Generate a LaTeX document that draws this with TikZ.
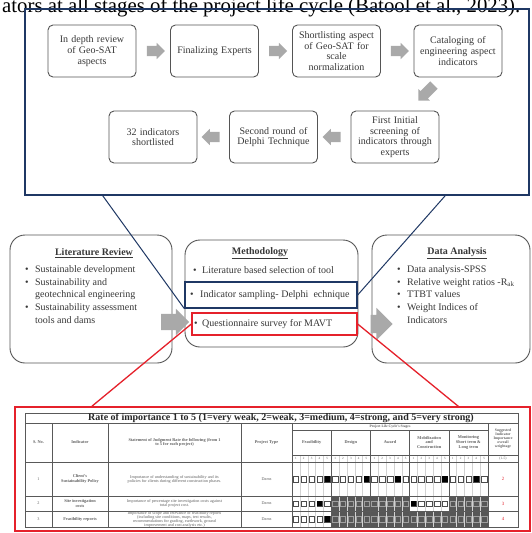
\documentclass[tikz,border=0pt]{standalone}
\usepackage{fontspec}
\setmainfont{Liberation Serif}
\usetikzlibrary{shapes.arrows,calc}

\definecolor{navy}{HTML}{1F3864}
\definecolor{boxgray}{HTML}{555555}
\definecolor{txtgray}{HTML}{383838}
\definecolor{arrowgray}{HTML}{A9A9A9}
\definecolor{mavtred}{HTML}{E5212B}
\definecolor{cellgray}{HTML}{575757}

\newcommand\tightcell{\lineskiplimit-10pt\relax\lineskip0pt\relax}

\begin{document}
\begin{tikzpicture}[x=1pt,y=-1pt,
    stepbox/.style={draw=boxgray, line width=0.9pt, rounded corners=5pt,
        minimum width=88pt, minimum height=52pt, text width=84pt, align=center,
        inner sep=1pt, text=txtgray, font=\fontsize{10}{10.6}\selectfont},
    flowarrow/.style={single arrow, fill=arrowgray, draw=none, inner xsep=0pt,
        inner ysep=5pt, minimum height=18pt, single arrow head extend=3pt},
    stagebox/.style={draw=boxgray, line width=0.9pt, rounded corners=15pt, inner sep=0pt},
    pickbox/.style={line width=1.3pt, inner sep=0pt},
    head/.style={font=\fontsize{10}{12}\selectfont\bfseries, text=txtgray},
    listtext/.style={anchor=north west, align=left, text=txtgray, inner sep=0pt,
        font=\fontsize{10}{12.6}\selectfont},
    cell/.style={font=\fontsize{4.2}{4}\selectfont\tightcell, align=center,
        text=gray!75!black, inner sep=0pt},
    cellhead/.style={cell, font=\fontsize{4.3}{4.6}\selectfont\bfseries\tightcell},
    grid/.style={draw=gray!70!black, line width=0.5pt},
    faint/.style={draw=gray!35, line width=0.3pt},
    chkbox/.style={draw=gray!60!black, line width=0.4pt},
]

\useasboundingbox (0,0) rectangle (531,533);
\clip (0,0) rectangle (531,533);
\fill[white] (0,0) rectangle (531,533);

% caption line, cut by the page
\node[anchor=base west, inner sep=0pt, font=\fontsize{20.8}{24}\selectfont] (caption) at (2,12.5)
    {ators at all stages of the project life cycle (Batool et al., 2023).};

% Geo-SAT process
\node[draw=navy, line width=1.3pt, minimum width=504pt, minimum height=186pt, inner sep=0pt] (flowframe) at (277,102) {};

\node[stepbox] (review)    at (92,51)    {In depth review\\ of Geo-SAT\\ aspects};
\node[stepbox] (experts)   at (214.5,51) {Finalizing Experts};
\node[stepbox] (shortlist) at (336.5,51) {Shortlisting aspect\\ of Geo-SAT for\\ scale\\ normalization};
\node[stepbox] (catalog)   at (458,51)   {Cataloging of\\ engineering aspect\\ indicators};
\node[stepbox] (screening) at (395,137)  {First Initial\\ screening of\\ indicators through\\ experts};
\node[stepbox] (delphi)    at (273.5,137) {Second round of\\ Delphi Technique};
\node[stepbox] (final)     at (153,137)  {32 indicators\\ shortlisted};

\node[flowarrow] at ($(review.east)!0.5!(experts.west)$) {};
\node[flowarrow] at ($(experts.east)!0.5!(shortlist.west)$) {};
\node[flowarrow] at ($(shortlist.east)!0.5!(catalog.west)$) {};
\node[flowarrow, rotate=225, minimum height=22pt] at (428,91) {};
\node[flowarrow, rotate=180] at ($(screening.west)!0.5!(delphi.east)$) {};
\node[flowarrow, rotate=180] at ($(delphi.west)!0.5!(final.east)$) {};

% three stages
\node[stagebox, minimum width=162pt, minimum height=128pt] (litbox)  at (91,299) {};
\node[stagebox, minimum width=173pt, minimum height=107pt] (methbox) at (271.5,293.5) {};
\node[stagebox, minimum width=158pt, minimum height=128pt] (databox) at (451,299) {};

\node[head] (littitle)  at (94,253)  {\underline{Literature Review}};
\node[head] (methtitle) at (260,253) {\underline{Methodology}};
\node[head] (datatitle) at (457,253) {\underline{Data Analysis}};

\node[listtext] (litlist) at (25,265.5) {%
    \makebox[10pt][l]{\textbullet}Sustainable development\\
    \makebox[10pt][l]{\textbullet}Sustainability and\\
    \hspace*{10pt}geotechnical engineering\\
    \makebox[10pt][l]{\textbullet}Sustainability assessment\\
    \hspace*{10pt}tools and dams};

\node[listtext] (datalist) at (397,265.5) {%
    \makebox[10pt][l]{\textbullet}Data analysis-SPSS\\
    \makebox[10pt][l]{\textbullet}Relative weight ratios -R\textsubscript{ak}\\
    \makebox[10pt][l]{\textbullet}TTBT values\\
    \makebox[10pt][l]{\textbullet}Weight Indices of\\
    \hspace*{10pt}Indicators};

\node[pickbox, draw=navy, minimum width=172pt, minimum height=26pt] (sampbox) at (271,295) {};
\node[pickbox, draw=mavtred, minimum width=165pt, minimum height=22pt] (mavtbox) at (274.5,324) {};

\node[listtext, anchor=west] (toolitem) at (193,270)
    {\makebox[9pt][l]{\textbullet}Literature based selection of tool};
\node[listtext, anchor=west] (sampitem) at (190,295.5)
    {\makebox[10pt][l]{\textbullet}Indicator sampling- Delphi\ \ echnique};
\node[listtext, anchor=west] (mavtitem) at (194,324)
    {\makebox[8pt][l]{\textbullet}Questionnaire survey for MAVT};

\node[flowarrow, inner ysep=8pt, single arrow head extend=5pt, minimum height=28pt] at (171,322) {};
\node[flowarrow, inner ysep=9pt, single arrow head extend=7pt, minimum height=22pt] at (377,324) {};

% questionnaire table
\node[draw=mavtred, line width=1.3pt, minimum width=515pt, minimum height=124pt, inner sep=0pt] (tabframe) at (272.5,469) {};

\coordinate (fl) at ($(flowframe.south west)!0.155!(flowframe.south east)$);
\coordinate (fr) at ($(flowframe.south west)!0.833!(flowframe.south east)$);
\coordinate (tl) at ($(tabframe.north west)!0.15!(tabframe.north east)$);
\coordinate (tr) at ($(tabframe.north west)!0.86!(tabframe.north east)$);

\draw[navy, line width=1pt] (fl) -- (sampbox.south west);
\draw[navy, line width=1pt] (fr) -- (sampbox.east);
\draw[mavtred, line width=1.3pt] (mavtbox.west) -- (tl);
\draw[mavtred, line width=1.3pt] (mavtbox.east) -- (tr);

% dark cells
\foreach \s/\ytop/\ybot in {2/496/511, 3/496/511, 5/496/511, 2/511/527, 3/511/527, 4/511/527, 5/511/527}
    \fill[cellgray] ({292+39.2*(\s-1)},\ytop) rectangle ({292+39.2*\s},\ybot);

% sub columns
\foreach \j in {1,...,24}
    \draw[faint] ({292+7.84*\j},455) -- ({292+7.84*\j},527);

% grid
\draw[grid] (25,413) rectangle (518,527);
\draw[grid] (25,423) -- (518,423);
\draw[grid] (292,430) -- (488,430);
\draw[grid] (292,455) -- (518,455);
\draw[grid] (25,462) -- (518,462);
\draw[grid] (25,496) -- (518,496);
\draw[grid] (25,511) -- (518,511);
\foreach \xx in {52,108,241,292,488}
    \draw[grid] (\xx,423) -- (\xx,527);
\foreach \s in {1,...,4}
    \draw[grid] ({292+39.2*\s},430) -- ({292+39.2*\s},527);

\node[font=\fontsize{10}{12}\selectfont\bfseries, text=black!85, inner sep=0pt] (tabtitle) at (281,418)
    {Rate of importance 1 to 5 (1=very weak, 2=weak, 3=medium, 4=strong, and 5=very strong)};

\node[cellhead] (hsno)   at (38.5,442.5) {S. No.};
\node[cellhead] (hind)   at (80,442.5)   {Indicator};
\node[cellhead] (hstat)  at (174.5,442.5)
    {Statement of Judgment Rate the following (from 1\\ to 5 for each project)};
\node[cellhead] (htype)  at (266.5,442.5) {Project Type};
\node[cellhead, font=\fontsize{3.6}{4}\selectfont\bfseries] (hstages) at (390,426.5) {Project Life Cycle's Stages};
\node[cellhead] (hfeas)  at (311.6,442.5) {Feasibility};
\node[cellhead] (hdes)   at (350.8,442.5) {Design};
\node[cellhead] (haward) at (390,442.5)   {Award};
\node[cellhead] (hmob)   at (429.2,442.5) {Mobilization\\ and\\ Construction};
\node[cellhead] (hmon)   at (468.4,442.5) {Monitoring\\ Short term \&\\ Long term};
\node[cellhead, font=\fontsize{3.8}{4}\selectfont\bfseries\tightcell] (hsugg) at (503,439)
    {Suggested\\ Indicator\\ Importance\\ overall\\ weightage};
\node[cell, font=\fontsize{3.6}{4}\selectfont] (hscale) at (503,458.5) {(1-5)};
\foreach \s in {1,...,5}
    \foreach \k in {1,...,5}
        \node[cell, font=\fontsize{3.2}{4}\selectfont] at ({292+39.2*(\s-1)+7.84*(\k-0.5)},458.5) {\k};

% rows
\foreach \yy/\no/\ind/\stat/\wt in {
    479/1/{Client's\\ Sustainability Policy}/{Importance of understanding of sustainability and its\\ policies for clients during different construction phases.}/2,
    503.5/2/{Site investigation\\ costs}/{Importance of percentage site investigation costs against\\ total project cost.}/3,
    519/3/{Feasibility reports}/{Importance of scope and relevance of feasibility reports\\ (including site conditions, maps, test results,\\ recommendations for grading, earthwork, ground\\ improvement and cost analysis etc.)}/4} {
    \node[cell] at (38.5,\yy) {\no};
    \node[cellhead] at (80,\yy) {\ind};
    \node[cell] at (174.5,\yy) {\stat};
    \node[cell] at (266.5,\yy) {Dams};
    \node[cell, text=mavtred, font=\fontsize{4.8}{5}\selectfont] at (503,\yy) {\wt};
}

% check boxes
\foreach \yy in {479,503.5,519}
    \foreach \s in {1,...,5}
        \foreach \k in {1,...,5}
            \draw[chkbox] ({292+39.2*(\s-1)+7.84*(\k-0.5)-2.7},{\yy-2.7}) rectangle ++(5.4,5.4);
\foreach \s/\yy in {2/503.5, 3/503.5, 5/503.5, 2/519, 3/519, 4/519, 5/519}
    \foreach \k in {1,...,5}
        \draw[chkbox, draw=gray!75] ({292+39.2*(\s-1)+7.84*(\k-0.5)-2.7},{\yy-2.7}) rectangle ++(5.4,5.4);
\foreach \s/\k/\yy in {1/5/479, 2/5/479, 3/4/479, 4/5/479, 5/4/479, 1/4/503.5, 4/1/503.5, 1/5/519}
    \fill[black] ({292+39.2*(\s-1)+7.84*(\k-0.5)-2.7},{\yy-2.7}) rectangle ++(5.4,5.4);

\end{tikzpicture}
\end{document}
